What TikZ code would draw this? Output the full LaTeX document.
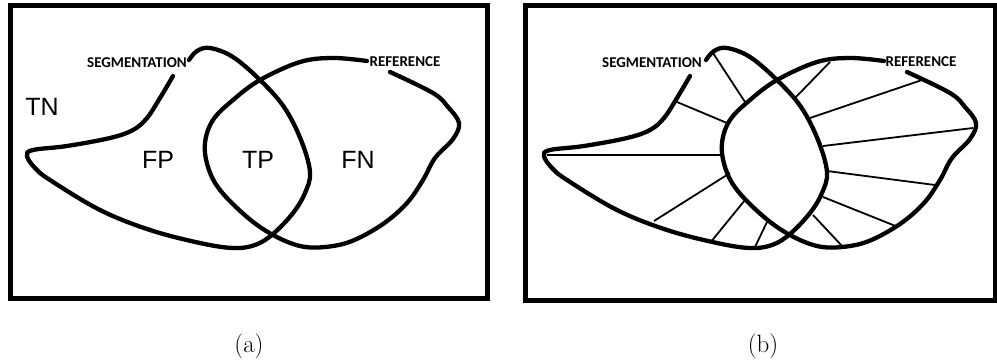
\documentclass[tikz,border=0pt]{standalone}
\usepackage{fontspec}
\newfontfamily\labelfont{Carlito}
\newfontfamily\regionfont{Liberation Sans}
\usetikzlibrary{calc}
\newcommand{\segpath}{(173,76) (160,98) (147,118) (133,130) (110,138) (67,146) (33,150) (27,156) (35,168) (50,180) (100,210) (150,230) (200,243) (233,248) (255,245) (273,234) (293,213) (305,193) (310,172) (301,140) (284,107) (260,80) (233,57) (210,48) (197,51) (189,60)}
\newcommand{\refpath}{(367,61) (333,58) (300,62) (260,80) (233,100) (213,120) (205,143) (208,167) (220,190) (247,217) (273,235) (300,246) (325,247) (352,241) (383,224) (407,203) (423,180) (435,158) (453,139) (459,123) (448,107) (433,93) (390,72)}

\begin{document}
\begin{tikzpicture}[x=1pt,y=-1pt,
  frame/.style={line width=5pt},
  contour/.style={line width=4.3pt,line cap=round},
  radial/.style={line width=1.8pt},
  tag/.style={font=\labelfont\bfseries\fontsize{15}{15}\selectfont,inner sep=0pt},
  region/.style={font=\regionfont\fontsize{25}{25}\selectfont,inner sep=0pt},
  caption/.style={font=\fontsize{25}{25}\selectfont,inner sep=0pt}]
\useasboundingbox (0,0) rectangle (997,362);

% panel (a)
\draw[frame] (10,5) rectangle (487,298);
\begin{scope}
\draw[contour] plot[smooth,tension=0.6] coordinates {\segpath};
\draw[contour] plot[smooth,tension=0.6] coordinates {\refpath};
\node[tag] (segA) at (137,63) {SEGMENTATION};
\node[tag] (refA) at (405,62) {REFERENCE};
\node[region] (tn) at (42,107) {TN};
\node[region] (fp) at (158,160) {FP};
\node[region] (tp) at (258,160) {TP};
\node[region] (fn) at (358,160) {FN};
\end{scope}
\node[caption] (capA) at (249,346) {(a)};

% panel (b)
\draw[frame] (525,5) rectangle (995,300);
\begin{scope}[xshift=517pt]
\draw[contour] plot[smooth,tension=0.6] coordinates {\segpath};
\draw[contour] plot[smooth,tension=0.6] coordinates {\refpath};
\foreach \a/\b in {{196,53}/{228,102},{160,102}/{210,123},{30,155}/{205,155},
  {137,221}/{213,173},{193,243}/{228,200},{238,247}/{250,222},
  {326,247}/{296,215},{381,227}/{306,197},{418,185}/{310,171},
  {456,128}/{306,146},{405,80}/{293,118},{313,62}/{278,98}}
  \draw[radial] (\a) -- (\b);
\node[tag] (segB) at (135,63) {SEGMENTATION};
\node[tag] (refB) at (404,62) {REFERENCE};
\end{scope}
\node[caption] (capB) at (763,346) {(b)};
\end{tikzpicture}
\end{document}
